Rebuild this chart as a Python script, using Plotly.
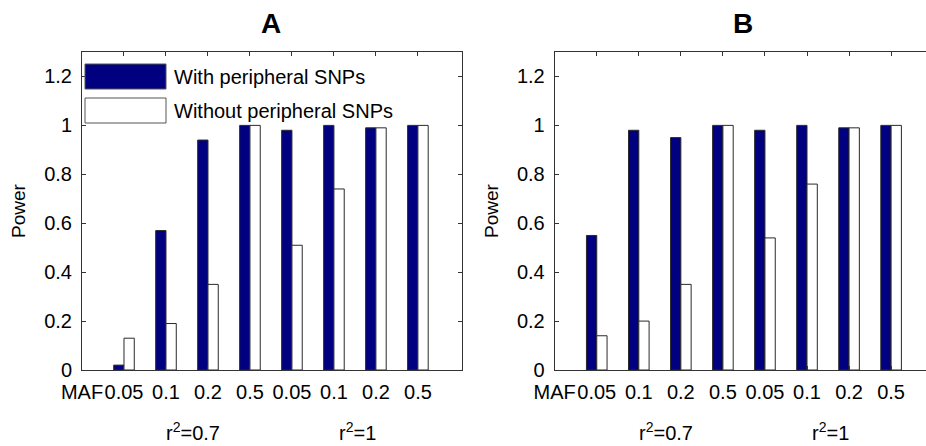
import plotly.graph_objects as go

# Category axis: position 0 carries the "MAF" row label, 1..8 the MAF values
tick_positions = [0, 1, 2, 3, 4, 5, 6, 7, 8]
tick_labels = ["MAF", "0.05", "0.1", "0.2", "0.5", "0.05", "0.1", "0.2", "0.5"]
bar_positions = [1, 2, 3, 4, 5, 6, 7, 8]

# Panel A
power_a_with = [0.02, 0.57, 0.94, 1.00, 0.98, 1.00, 0.99, 1.00]
power_a_without = [0.13, 0.19, 0.35, 1.00, 0.51, 0.74, 0.99, 1.00]

# Panel B
power_b_with = [0.55, 0.98, 0.95, 1.00, 0.98, 1.00, 0.99, 1.00]
power_b_without = [0.14, 0.20, 0.35, 1.00, 0.54, 0.76, 0.99, 1.00]

series_names = ["With peripheral SNPs", "Without peripheral SNPs"]
group_labels = ["r<sup>2</sup>=0.7", "r<sup>2</sup>=1"]
group_centers = [2.65, 6.55]
panel_titles = ["A", "B"]

NAVY = "#000080"
EDGE = "#2a2a2a"
FONT = "Liberation Sans, Arial, sans-serif"

W, H = 926, 446

def px_x(p):
    return p / W

def px_y(p):
    return 1 - p / H

fig = go.Figure()

panels = [
    ("x", "y", power_a_with, power_a_without),
    ("x2", "y2", power_b_with, power_b_without),
]
for xa, ya, with_vals, without_vals in panels:
    fig.add_trace(go.Bar(x=bar_positions, y=with_vals, name=series_names[0],
                         xaxis=xa, yaxis=ya, showlegend=False,
                         marker=dict(color=NAVY, line=dict(color=EDGE, width=1))))
    fig.add_trace(go.Bar(x=bar_positions, y=without_vals, name=series_names[1],
                         xaxis=xa, yaxis=ya, showlegend=False,
                         marker=dict(color="white", line=dict(color=EDGE, width=1))))

tick_font = dict(family=FONT, size=20, color="black")

xaxis_common = dict(
    tickmode="array", tickvals=tick_positions, ticktext=tick_labels,
    tickangle=0, ticklabelstandoff=4, automargin=False,
    ticks="inside", ticklen=4, tickcolor="#333", tickwidth=1,
    showline=True, linecolor="#333", linewidth=1,
    showgrid=False, zeroline=False, tickfont=tick_font, fixedrange=True,
)
yaxis_common = dict(
    range=[0, 1.3], tickmode="array", tickvals=[0, 0.2, 0.4, 0.6, 0.8, 1, 1.2],
    ticktext=["0", "0.2", "0.4", "0.6", "0.8", "1", "1.2"],
    ticklabelstandoff=5, automargin=False,
    ticks="inside", ticklen=4, tickcolor="#333", tickwidth=1,
    showline=True, linecolor="#333", linewidth=1,
    showgrid=False, zeroline=False, tickfont=tick_font, fixedrange=True,
)

y_dom = [px_y(370), px_y(52)]

fig.update_layout(
    width=W, height=H,
    margin=dict(l=0, r=0, t=0, b=0, autoexpand=False),
    paper_bgcolor="white", plot_bgcolor="white",
    barmode="group", bargap=0.51, bargroupgap=0,
    showlegend=False,
    xaxis=dict(xaxis_common, domain=[px_x(82), px_x(462)], range=[0, 9.05],
               anchor="y", mirror="ticks"),
    yaxis=dict(yaxis_common, domain=y_dom, anchor="x", mirror="ticks"),
    xaxis2=dict(xaxis_common, domain=[px_x(554.7), 1.0], range=[0, 8.83],
                anchor="y2", mirror="ticks"),
    yaxis2=dict(yaxis_common, domain=y_dom, anchor="x2", mirror=False),
)

annotations = []
shapes = []

# Panel titles and y-axis labels
for title, cx, ylab_x in [(panel_titles[0], 271, 19), (panel_titles[1], 743, 492)]:
    annotations.append(dict(text="<b>%s</b>" % title, x=px_x(cx), y=px_y(23),
                            xref="paper", yref="paper", showarrow=False,
                            xanchor="center", yanchor="middle",
                            font=dict(family=FONT, size=28, color="black")))
    annotations.append(dict(text="Power", x=px_x(ylab_x), y=px_y(211),
                            xref="paper", yref="paper", showarrow=False,
                            textangle=-90, xanchor="center", yanchor="middle",
                            font=dict(family=FONT, size=19, color="black")))

# Group labels under the MAF rows
for xa in ["x", "x2"]:
    for label, cx in zip(group_labels, group_centers):
        annotations.append(dict(text=label, x=cx, y=0, xref=xa, yref="paper",
                                showarrow=False, xanchor="center", yanchor="bottom",
                                font=dict(family=FONT, size=20, color="black")))

# Legend inside panel A
legend_rows = [(series_names[0], NAVY, 64, 89), (series_names[1], "white", 98, 123)]
for name, color, top, bottom in legend_rows:
    shapes.append(dict(type="rect", xref="paper", yref="paper",
                       x0=px_x(85), x1=px_x(166), y0=px_y(bottom), y1=px_y(top),
                       fillcolor=color, line=dict(color="#555", width=1)))
    annotations.append(dict(text=name, x=px_x(172), y=px_y((top + bottom) / 2),
                            xref="paper", yref="paper", showarrow=False,
                            xanchor="left", yanchor="middle",
                            font=dict(family=FONT, size=20, color="black")))

fig.update_layout(annotations=annotations, shapes=shapes)

fig.write_html("out.html")
